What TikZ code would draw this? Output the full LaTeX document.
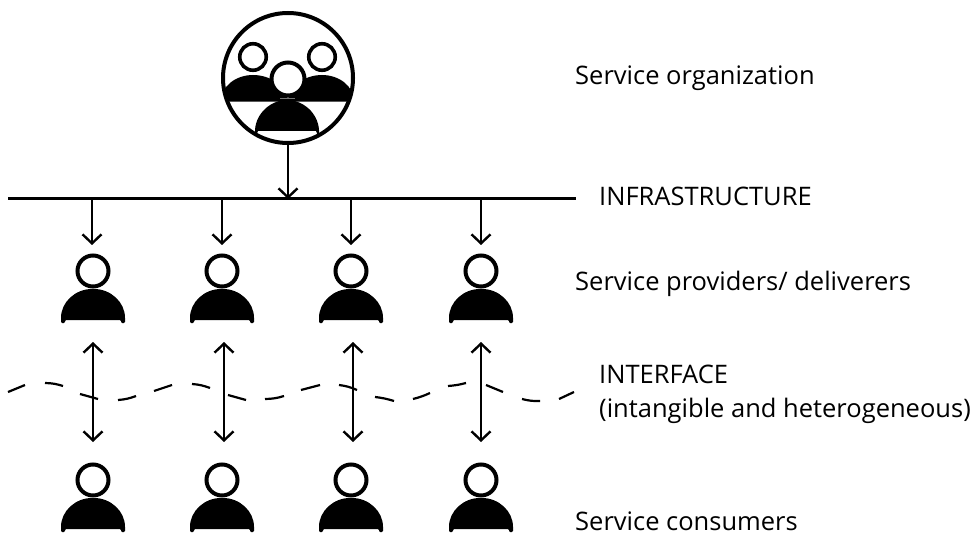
\documentclass[tikz,border=0pt]{standalone}
\usepackage{fontspec}
\setmainfont{Open Sans}
\usetikzlibrary{arrows.meta,bending}
\tikzset{
  label text/.style={anchor=base west,inner sep=0pt,font=\fontsize{25.5}{30}\selectfont,text=black},
  conn/.style={draw=black,line width=2.4pt},
  oneway/.style={conn,-{Straight Barb[length=9pt,width=19pt,line width=2.4pt]}},
  twoway/.style={conn,{Straight Barb[length=9pt,width=19pt,line width=2.4pt]}-{Straight Barb[length=9pt,width=19pt,line width=2.4pt]}},
  headring/.style={circle,draw=black,fill=white,line width=4pt,inner sep=0pt,minimum size=31pt},
  wave/.style={draw=black,line width=2.2pt},
}
\newcommand{\personfig}[3]{% name, x, y of head centre
  \fill[black,rounded corners=1.2pt] (#2-32,#3+52) -- (#2-32,#3+48)
    .. controls (#2-32,#3+31) and (#2-17.5,#3+18) .. (#2,#3+18)
    .. controls (#2+17.5,#3+18) and (#2+32,#3+31) .. (#2+32,#3+48)
    -- (#2+32,#3+52) -- (#2+28,#3+52) -- (#2+28,#3+49) -- (#2-28,#3+49) -- (#2-28,#3+52) -- cycle;
  \node[headring] (#1) at (#2,#3) {};
}
\begin{document}
\begin{tikzpicture}[x=1pt,y=-1pt]
\useasboundingbox (0,0) rectangle (976,534);
% service organization emblem
\begin{scope}
  \clip (288,78) circle (65pt);
  \fill[black] (221,101.7) .. controls (221,86) and (236,75) .. (253,75)
     .. controls (270,75) and (288,86) .. (288,101.7) -- cycle;
  \fill[black] (288,101.7) .. controls (288,86) and (305,75) .. (322,75)
     .. controls (339,75) and (354,86) .. (354,101.7) -- cycle;
  \fill[black] (255,138) -- (255,130) .. controls (256,113) and (271,100) .. (287,100)
     .. controls (303,100) and (318,113) .. (319,130) -- (319,138) -- (316,131) -- (258,131) -- cycle;
\end{scope}
\node[headring,line width=3.6pt,minimum size=26.5pt] (orgA) at (253,57) {};
\node[headring,line width=3.6pt,minimum size=26.5pt] (orgB) at (322,57) {};
\node[circle,draw=black,fill=white,line width=4pt,inner sep=0pt,minimum size=33pt] (orgC) at (288,79) {};
\fill[black!55] (280,98.4) rectangle (295,99.4);
\node[circle,draw=black,line width=4pt,inner sep=0pt,minimum size=130pt] (org) at (288,78) {};
% infrastructure bar
\coordinate (barL) at (8,199);
\coordinate (barR) at (576,199);
\draw[black,line width=3pt] (barL) -- (barR);
\coordinate (barC) at (288,199);
\draw[oneway] (org.south) -- (barC);
% people
\foreach \n/\x in {1/93,2/222,3/351,4/481}{
  \personfig{prov\n}{\x}{271}
  \personfig{cons\n}{\x}{480}
}
\foreach \n/\x in {1/92,2/222,3/351,4/481}{
  \coordinate (barD\n) at (\x,199);
  \coordinate (provT\n) at (\x,245);
  \draw[oneway] (barD\n) -- (provT\n);
}
\foreach \n/\x in {1/93,2/224,3/353,4/481}{
  \coordinate (ifT\n) at (\x,342);
  \coordinate (ifB\n) at (\x,442);
  \draw[twoway] (ifT\n) -- (ifB\n);
}
% interface wave
\draw[wave] (8,392) -- (25,385)
  (45,383) to[bend left=8] (63,386)
  (80,394) -- (98,399)
  (118,400) to[bend right=8] (136,396)
  (154,391) -- (172,385)
  (192,384) to[bend left=8] (210,388)
  (228,395) -- (246,400)
  (265,399) to[bend right=8] (284,396)
  (301,390) -- (320,385)
  (339,385) to[bend left=8] (357,390)
  (375,397) to[bend left=5] (394,401)
  (413,399) to[bend right=5] (430,393)
  (448,386) to[bend right=5] (466,383)
  (486,385) -- (503,392)
  (522,399) to[bend right=8] (540,401)
  (559,399) -- (574,392);
% labels
\node[label text] (t1) at (575,84.3) {Service organization};
\node[label text] (t2) at (599,205.7) {INFRASTRUCTURE};
\node[label text] (t3) at (575,290.7) {Service providers/ deliverers};
\node[label text] (t4) at (599,383) {INTERFACE};
\node[label text] (t5) at (599,417.7) {(intangible and heterogeneous)};
\node[label text] (t6) at (575,530) {Service consumers};
\end{tikzpicture}
\end{document}
